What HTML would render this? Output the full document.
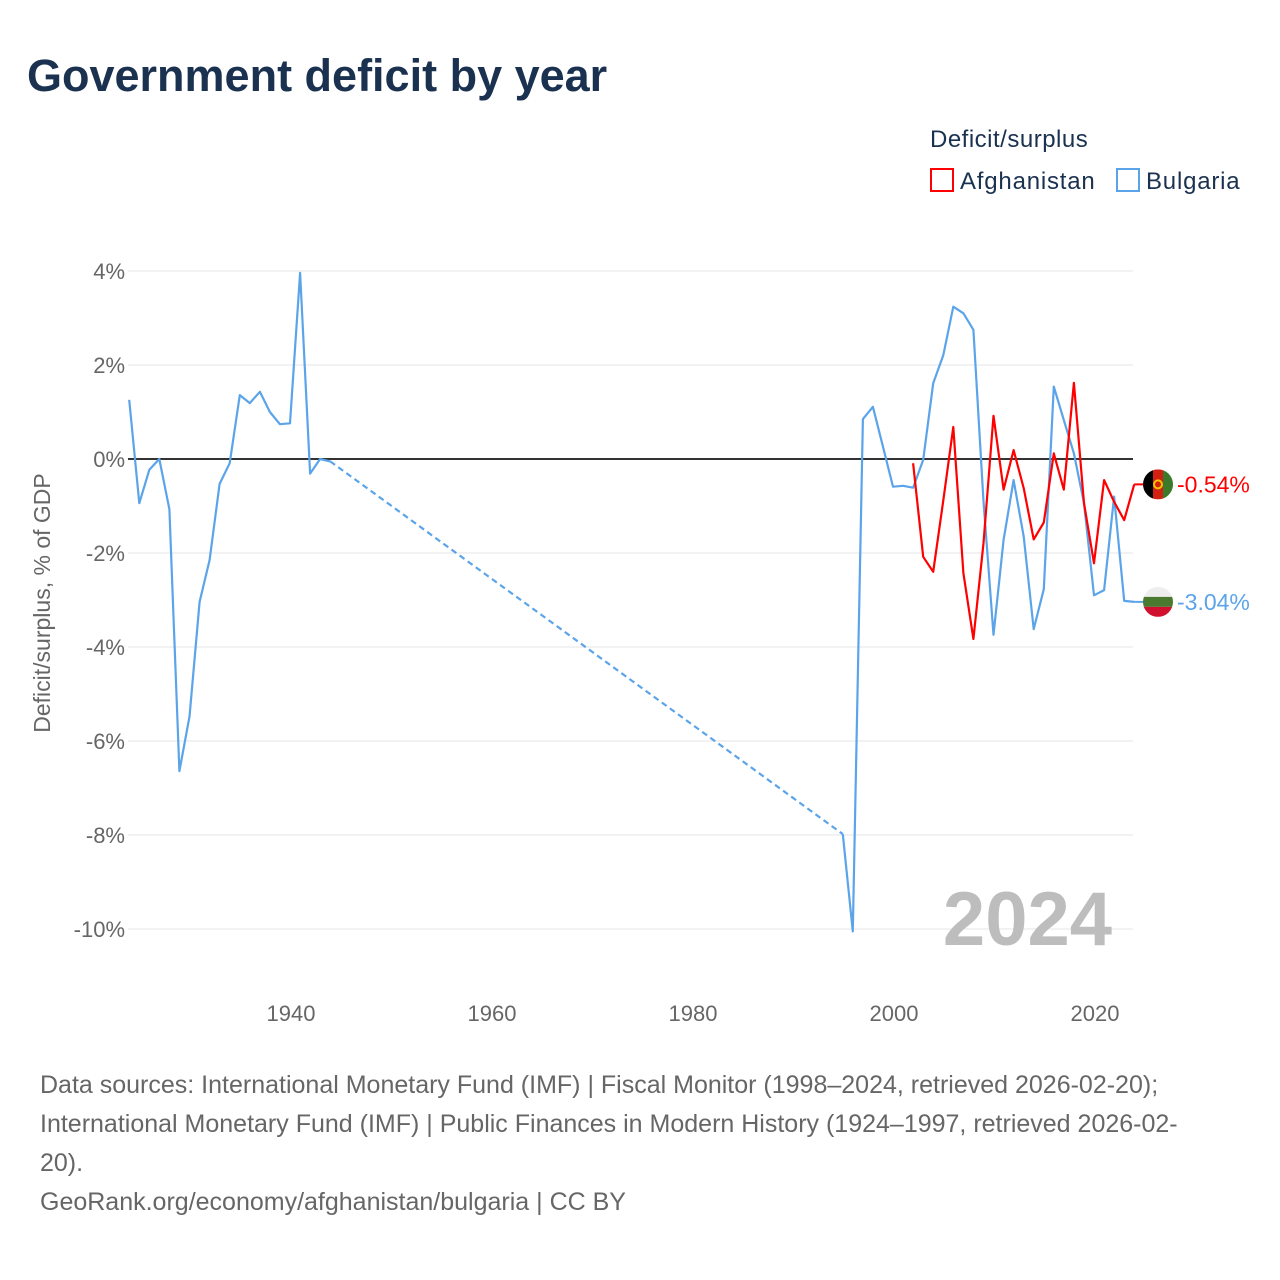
<!DOCTYPE html>
<html><head><meta charset="utf-8">
<style>
body{margin:0;background:#fff;font-family:"Liberation Sans",sans-serif;}
#wrap{position:relative;width:1280px;height:1280px;overflow:hidden;}
h1{position:absolute;left:27px;top:50px;margin:0;font-size:45px;font-weight:bold;color:#1a3150;letter-spacing:0px;}
.src{position:absolute;left:40px;top:1066px;width:1220px;font-size:25px;line-height:39px;color:#666;white-space:nowrap;}
</style></head><body>
<div id="wrap">
<h1>Government deficit by year</h1>
<svg id="chart" width="1280" height="1280" style="position:absolute;left:0;top:0"></svg>
<div class="src">Data sources: International Monetary Fund (IMF) | Fiscal Monitor (1998–2024, retrieved 2026-02-20);<br>International Monetary Fund (IMF) | Public Finances in Modern History (1924–1997, retrieved 2026-02-<br>20).<br>GeoRank.org/economy/afghanistan/bulgaria | CC BY</div>
</div>
<script>
const bgEarlyYears=[1924,1925,1926,1927,1928,1929,1930,1931,1932,1933,1934,1935,1936,1937,1938,1939,1940,1941,1942,1943,1944];
const bgEarlyValues=[1.26,-0.94,-0.23,0,-1.07,-6.64,-5.48,-3.04,-2.15,-0.53,-0.09,1.36,1.19,1.43,1.0,0.74,0.76,3.96,-0.31,0,-0.05];
const bgLateYears=[1995,1996,1997,1998,1999,2000,2001,2002,2003,2004,2005,2006,2007,2008,2009,2010,2011,2012,2013,2014,2015,2016,2017,2018,2019,2020,2021,2022,2023,2024];
const bgLateValues=[-7.98,-10.05,0.85,1.11,0.26,-0.59,-0.57,-0.61,-0.02,1.61,2.21,3.24,3.1,2.75,-0.9,-3.74,-1.72,-0.45,-1.65,-3.62,-2.77,1.54,0.83,0.12,-0.94,-2.9,-2.79,-0.8,-3.02,-3.04];
const afYears=[2002,2003,2004,2005,2006,2007,2008,2009,2010,2011,2012,2013,2014,2015,2016,2017,2018,2019,2020,2021,2022,2023,2024];
const afValues=[-0.09,-2.08,-2.4,-0.88,0.68,-2.43,-3.83,-1.79,0.92,-0.65,0.19,-0.62,-1.71,-1.35,0.12,-0.65,1.62,-0.94,-2.22,-0.45,-0.91,-1.3,-0.54];
const yTicks=[4,2,0,-2,-4,-6,-8,-10];
const xTicks=[1940,1960,1980,2000,2020];

const NS="http://www.w3.org/2000/svg";
const svg=document.getElementById('chart');
const X=y=>290+(y-1940)*10.05;
const Y=v=>459-v*47;
function mk(tag,attrs,parent){const e=document.createElementNS(NS,tag);for(const k in attrs)e.setAttribute(k,attrs[k]);(parent||svg).appendChild(e);return e;}

yTicks.forEach(t=>{
  const g=mk('line',{x1:128,x2:1133,y1:Y(t),y2:Y(t),stroke:t===0?'#333':'#e6e6e6','stroke-width':t===0?2:1});
  
  
  const tx=mk('text',{x:125,y:Y(t)+8,'text-anchor':'end','font-size':22,fill:'#666','font-family':'Liberation Sans,sans-serif'});
  tx.textContent=t+'%';
  
  
});
xTicks.forEach(t=>{
  const tx=mk('text',{x:X(t)+1,y:1021,'text-anchor':'middle','font-size':22,fill:'#666','font-family':'Liberation Sans,sans-serif'});
  tx.textContent=t;
  
  
});
const yt=mk('text',{transform:'translate(50,603) rotate(-90)','text-anchor':'middle','font-size':23,fill:'#666','font-family':'Liberation Sans,sans-serif'});
yt.textContent='Deficit/surplus, % of GDP';



const yr=mk('text',{x:1112,y:945,'text-anchor':'end','font-size':76,'font-weight':'bold',fill:'#bdbdbd','font-family':'Liberation Sans,sans-serif'});
yr.textContent='2024';



function pts(ys,vs){return ys.map((y,i)=>X(y).toFixed(1)+','+Y(vs[i]).toFixed(1)).join(' ');}
const l1=mk('polyline',{points:pts(bgEarlyYears,bgEarlyValues),fill:'none',stroke:'#5ba4ea','stroke-width':2.2,'stroke-linejoin':'round'});


const gap=mk('line',{x1:X(bgEarlyYears[bgEarlyYears.length-1]),y1:Y(bgEarlyValues[bgEarlyValues.length-1]),x2:X(bgLateYears[0]),y2:Y(bgLateValues[0]),stroke:'#5ba4ea','stroke-width':2.2,'stroke-dasharray':'6,4'});


const l2=mk('polyline',{points:pts(bgLateYears,bgLateValues),fill:'none',stroke:'#5ba4ea','stroke-width':2.2,'stroke-linejoin':'round'});


const l3=mk('polyline',{points:pts(afYears,afValues),fill:'none',stroke:'#ff0000','stroke-width':2.2,'stroke-linejoin':'round'});



const afEnd=afValues[afValues.length-1], bgEnd=bgLateValues[bgLateValues.length-1];
const c1=mk('line',{x1:X(2024),x2:1146,y1:Y(afEnd),y2:Y(afEnd),stroke:'#ff0000','stroke-width':2});

const c2=mk('line',{x1:X(2024),x2:1146,y1:Y(bgEnd),y2:Y(bgEnd),stroke:'#5ba4ea','stroke-width':2});


const defs=mk('defs',{});
const ca=mk('clipPath',{id:'cA'},defs);mk('circle',{cx:1158,cy:Y(afEnd),r:15},ca);
const cb=mk('clipPath',{id:'cB'},defs);mk('circle',{cx:1158,cy:Y(bgEnd),r:15},cb);

const fa=mk('g',{'clip-path':'url(#cA)'});

const ay=Y(afEnd);
mk('rect',{x:1143,y:ay-15,width:10,height:30,fill:'#000'},fa);
mk('rect',{x:1153,y:ay-15,width:10,height:30,fill:'#d32011'},fa);
mk('rect',{x:1163,y:ay-15,width:10,height:30,fill:'#3b7a2a'},fa);
mk('circle',{cx:1158,cy:ay,r:4,fill:'none',stroke:'#f4c400','stroke-width':2},fa);

const fb=mk('g',{'clip-path':'url(#cB)'});

const by=Y(bgEnd);
mk('rect',{x:1143,y:by-15,width:30,height:10,fill:'#eee'},fb);
mk('rect',{x:1143,y:by-5,width:30,height:10,fill:'#4a7a30'},fb);
mk('rect',{x:1143,y:by+5,width:30,height:10,fill:'#d0102e'},fb);

const va=mk('text',{x:1177,y:ay+8,'font-size':23,fill:'#ff0000','font-family':'Liberation Sans,sans-serif'});
va.textContent=afEnd.toFixed(2)+'%';

const vb=mk('text',{x:1177,y:by+8,'font-size':23,fill:'#5ba4ea','font-family':'Liberation Sans,sans-serif'});
vb.textContent=bgEnd.toFixed(2)+'%';


const lt=mk('text',{x:930,y:147,'font-size':24,fill:'#1a3150','font-family':'Liberation Sans,sans-serif','letter-spacing':0.5});
lt.textContent='Deficit/surplus';

const la=mk('g',{});

mk('rect',{x:931,y:169,width:22,height:22,fill:'none',stroke:'#ff0000','stroke-width':2},la);
const lat=mk('text',{x:960,y:189,'font-size':24,fill:'#1a3150','font-family':'Liberation Sans,sans-serif','letter-spacing':0.8},la);lat.textContent='Afghanistan';
const lb=mk('g',{});

mk('rect',{x:1117,y:169,width:22,height:22,fill:'none',stroke:'#5ba4ea','stroke-width':2},lb);
const lbt=mk('text',{x:1146,y:189,'font-size':24,fill:'#1a3150','font-family':'Liberation Sans,sans-serif','letter-spacing':0.8},lb);lbt.textContent='Bulgaria';
</script>
</body></html>
